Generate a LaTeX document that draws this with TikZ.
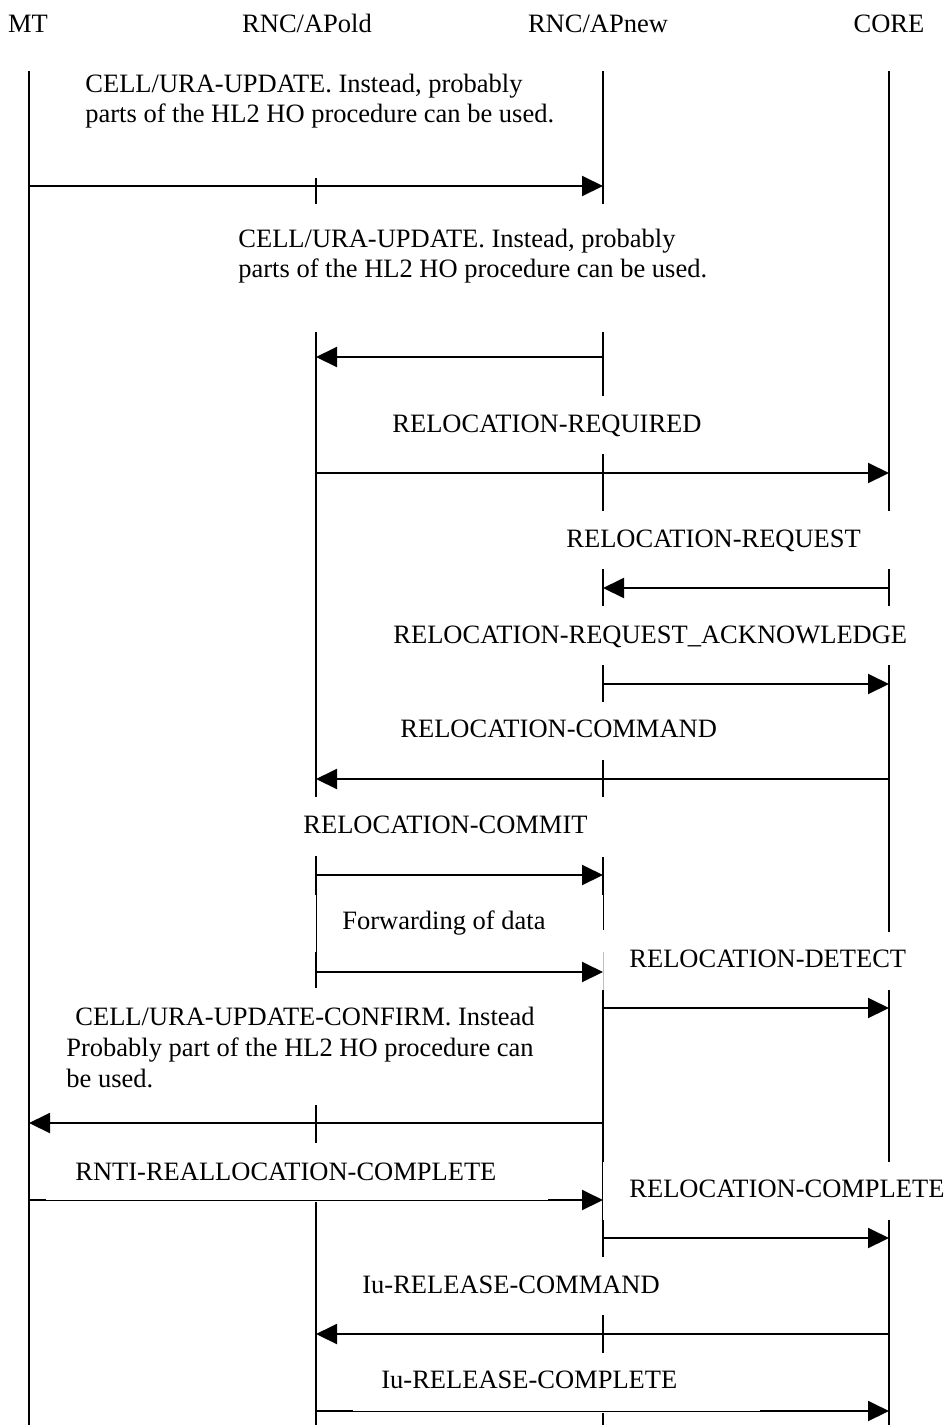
\documentclass[tikz,border=0pt]{standalone}
\usepackage{fontspec}
\setmainfont{Liberation Serif}
\usetikzlibrary{arrows.meta}

\begin{document}
\begin{tikzpicture}[x=0.5pt,y=-0.5pt,
  lifeline/.style={line width=0.85pt},
  thinlife/.style={line width=0.4pt},
  faintlife/.style={line width=0.4pt,black!25},
  msg/.style={line width=1pt,-{Triangle[length=10.5pt,width=10pt]}},
  txt/.style={anchor=base west,inner sep=0pt,font=\fontsize{13.25}{15.5}\selectfont},
  hdr/.style={anchor=base,inner sep=0pt,font=\fontsize{13.25}{15.5}\selectfont},
  cover/.style={fill=white,draw=none}]
\useasboundingbox (0,0) rectangle (952,1425);

% entity names
\node[hdr] (hMT)   at (28,32)  {MT};
\node[hdr] (hOld)  at (307,32) {RNC/APold};
\node[hdr] (hNew)  at (598,32) {RNC/APnew};
\node[hdr] (hCore) at (889,32) {CORE};

% lifelines, interrupted where message texts sit
\draw[lifeline] (29,71) -- (29,1425);

\draw[lifeline] (316,178) -- (316,204);
\draw[lifeline] (316,332) -- (316,797);
\draw[lifeline] (316,856) -- (316,895);
\draw[thinlife] (316,895) -- (316,952);
\draw[lifeline] (316,952) -- (316,988);
\draw[lifeline] (316,1105) -- (316,1143);
\draw[lifeline] (316,1202) -- (316,1425);

\draw[lifeline] (603,71) -- (603,204);
\draw[lifeline] (603,332) -- (603,396);
\draw[lifeline] (603,454) -- (603,511);
\draw[lifeline] (603,569) -- (603,606);
\draw[lifeline] (603,665) -- (603,702);
\draw[lifeline] (603,760) -- (603,797);
\draw[lifeline] (603,857) -- (603,895);
\draw[thinlife] (603,895) -- (603,930);
\draw[faintlife] (603,952) -- (603,990);
\draw[lifeline] (603,990) -- (603,1162);
\draw[thinlife] (602,1162) -- (602,1220);
\draw[lifeline] (603,1220) -- (603,1257);
\draw[lifeline] (603,1315) -- (603,1353);
\draw[lifeline] (603,1413) -- (603,1425);

\draw[lifeline] (889,71) -- (889,511);
\draw[lifeline] (889,569) -- (889,606);
\draw[lifeline] (889,665) -- (889,932);
\draw[lifeline] (889,990) -- (889,1162);
\draw[lifeline] (889,1220) -- (889,1425);

% message end points
\coordinate (a1s) at (29,186);   \coordinate (a1e) at (603,186);
\coordinate (a2s) at (603,357);  \coordinate (a2e) at (316,357);
\coordinate (a3s) at (316,473);  \coordinate (a3e) at (889,473);
\coordinate (a4s) at (889,588);  \coordinate (a4e) at (603,588);
\coordinate (a5s) at (603,684);  \coordinate (a5e) at (889,684);
\coordinate (a6s) at (889,779);  \coordinate (a6e) at (316,779);
\coordinate (a7s) at (316,875);  \coordinate (a7e) at (603,875);
\coordinate (a8s) at (316,972);  \coordinate (a8e) at (603,972);
\coordinate (a9s) at (603,1008); \coordinate (a9e) at (889,1008);
\coordinate (b1s) at (603,1123); \coordinate (b1e) at (29,1123);
\coordinate (b2s) at (29,1200);  \coordinate (b2e) at (603,1200);
\coordinate (b3s) at (603,1238); \coordinate (b3e) at (889,1238);
\coordinate (b4s) at (889,1334); \coordinate (b4e) at (316,1334);
\coordinate (b5s) at (316,1411); \coordinate (b5e) at (889,1411);

% messages
\draw[msg] (a1s) -- (a1e);
\draw[msg] (a2s) -- (a2e);
\draw[msg] (a3s) -- (a3e);
\draw[msg] (a4s) -- (a4e);
\draw[msg] (a5s) -- (a5e);
\draw[msg] (a6s) -- (a6e);
\draw[msg] (a7s) -- (a7e);
\draw[msg] (a8s) -- (a8e);
\draw[msg] (a9s) -- (a9e);
\draw[msg] (b1s) -- (b1e);
\draw[msg] (b2s) -- (b2e);
\draw[msg] (b3s) -- (b3e);
\draw[msg] (b4s) -- (b4e);
\draw[msg] (b5s) -- (b5e);

% text boxes that overlap the upper edge of two messages
\fill[cover] (46,1196) rectangle (548,1200.3);
\fill[cover] (353,1407) rectangle (760,1411.3);

% message texts
\node[txt] (t1a) at (85,92)  {CELL/URA-UPDATE. Instead, probably};
\node[txt] (t1b) at (85,122) {parts of the HL2 HO procedure can be used.};
\node[txt] (t2a) at (238,247) {CELL/URA-UPDATE. Instead, probably};
\node[txt] (t2b) at (238,277) {parts of the HL2 HO procedure can be used.};
\node[txt] (t3) at (392,432) {RELOCATION-REQUIRED};
\node[txt] (t4) at (566,547) {RELOCATION-REQUEST};
\node[txt] (t5) at (393,643) {RELOCATION-REQUEST\_ACKNOWLEDGE};
\node[txt] (t6) at (400,737) {RELOCATION-COMMAND};
\node[txt] (t7) at (303,833) {RELOCATION-COMMIT};
\node[txt] (t8) at (342,929) {Forwarding of data};
\node[txt] (t9) at (629,967) {RELOCATION-DETECT};
\node[txt] (t10a) at (75,1025) {CELL/URA-UPDATE-CONFIRM. Instead};
\node[txt] (t10b) at (66,1056) {Probably part of the HL2 HO procedure can};
\node[txt] (t10c) at (66,1087) {be used.};
\node[txt] (t11) at (75,1180) {RNTI-REALLOCATION-COMPLETE};
\node[txt] (t12) at (629,1197) {RELOCATION-COMPLETE};
\node[txt] (t13) at (362,1293) {Iu-RELEASE-COMMAND};
\node[txt] (t14) at (381,1388) {Iu-RELEASE-COMPLETE};
\end{tikzpicture}
\end{document}
